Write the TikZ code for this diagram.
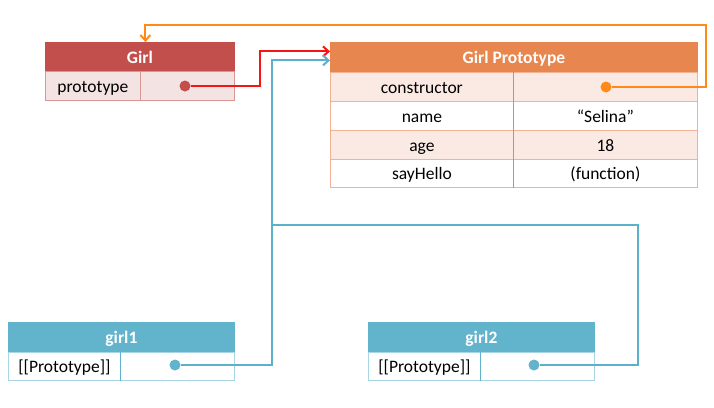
\documentclass[tikz,border=0pt]{standalone}
\usepackage{fontspec}
\setmainfont{Carlito}
\usetikzlibrary{arrows.meta}
\definecolor{girlred}{HTML}{C24F4C}
\definecolor{girlpink}{HTML}{F3E3E3}
\definecolor{girlline}{HTML}{D99694}
\definecolor{protohead}{HTML}{E8864F}
\definecolor{protopink}{HTML}{FBEAE4}
\definecolor{protoline}{HTML}{F2B296}
\definecolor{girlblue}{HTML}{62B3CC}
\definecolor{blueline}{HTML}{A8D6E4}
\definecolor{linkred}{HTML}{F51515}
\definecolor{linkorange}{HTML}{FF8A1A}
\definecolor{linkblue}{HTML}{5DB0C9}
\tikzset{
  cell/.style={draw, minimum height=29pt, inner sep=0pt, anchor=north west,
    text height=16pt, text depth=3pt,
    line width=0.8pt, font=\fontsize{17.5}{21}\selectfont},
  hdr/.style={cell, text=white, font=\fontsize{17.5}{21}\selectfont\bfseries},
  dot/.style={circle, inner sep=0pt, minimum size=11pt},
  wire/.style={line width=2pt},
  link/.style={wire, -{Straight Barb[length=5.5pt,width=10pt,line width=2pt]}},
}
\begin{document}
\begin{tikzpicture}[x=1pt,y=-1pt]
  \useasboundingbox (0,0) rectangle (714,407);
  \node[hdr, fill=girlred, draw=girlred, minimum width=189pt] (girl) at (45,42) {Girl};
  \node[cell, fill=girlpink, draw=girlline, minimum width=95pt] (girlkey) at (45,71) {prototype};
  \node[cell, fill=girlpink, draw=girlline, minimum width=94pt] (girlval) at (140,71) {};
  \node[dot, fill=girlred] (girldot) at (185,86) {};

  \node[hdr, fill=protohead, draw=protohead, minimum width=367pt, minimum height=30pt] (proto) at (330,42) {Girl Prototype};
  \node[cell, fill=protopink, draw=protoline, minimum width=183pt] (ctorkey) at (330,72) {constructor};
  \node[cell, fill=protopink, draw=protoline, minimum width=184pt] (ctorval) at (513,72) {};
  \node[cell, fill=white, draw=protoline, minimum width=183pt] (namekey) at (330,101) {name};
  \node[cell, fill=white, draw=protoline, minimum width=184pt] (nameval) at (513,101) {“Selina”};
  \node[cell, fill=protopink, draw=protoline, minimum width=183pt] (agekey) at (330,130) {age};
  \node[cell, fill=protopink, draw=protoline, minimum width=184pt] (ageval) at (513,130) {18};
  \node[cell, fill=white, draw=protoline, minimum width=183pt, minimum height=28pt] (hellokey) at (330,159) {sayHello};
  \node[cell, fill=white, draw=protoline, minimum width=184pt, minimum height=28pt] (helloval) at (513,159) {(function)};
  \draw[protohead, line width=0.8pt] (ctorkey.north east) -- (hellokey.south east);
  \node[dot, fill=linkorange] (protodot) at (606,87) {};

  \node[hdr, fill=girlblue, draw=girlblue, minimum width=226pt, minimum height=30pt] (girl1) at (8,322) {girl1};
  \node[cell, fill=white, draw=blueline, minimum width=112pt, minimum height=28pt] (g1key) at (8,352) {[[Prototype]]};
  \node[cell, fill=white, draw=blueline, minimum width=114pt, minimum height=28pt] (g1val) at (120,352) {};
  \draw[girlblue, line width=0.8pt] (g1key.north east) -- (g1key.south east);
  \node[dot, fill=girlblue] (g1dot) at (175,365) {};

  \node[hdr, fill=girlblue, draw=girlblue, minimum width=226pt, minimum height=30pt] (girl2) at (368,322) {girl2};
  \node[cell, fill=white, draw=blueline, minimum width=112pt, minimum height=28pt] (g2key) at (368,352) {[[Prototype]]};
  \node[cell, fill=white, draw=blueline, minimum width=114pt, minimum height=28pt] (g2val) at (480,352) {};
  \draw[girlblue, line width=0.8pt] (g2key.north east) -- (g2key.south east);
  \node[dot, fill=girlblue] (g2dot) at (534,365) {};

  \coordinate (join) at (271,225);
  \draw[link, draw=linkred] (girldot.east) -- ++(69,0) |- ([yshift=6pt]proto.west);
  \draw[link, draw=linkorange] (protodot.east) -- ++(94,0) |- ([xshift=5.5pt,yshift=17pt]girl.north) -- ([xshift=5.5pt]girl.north);
  \draw[link, draw=linkblue] (g1dot.east) -- ++(91,0) |- ([yshift=-3pt]proto.west);
  \draw[wire, draw=linkblue] (g2dot.east) -- ++(98,0) |- (join);
\end{tikzpicture}
\end{document}
